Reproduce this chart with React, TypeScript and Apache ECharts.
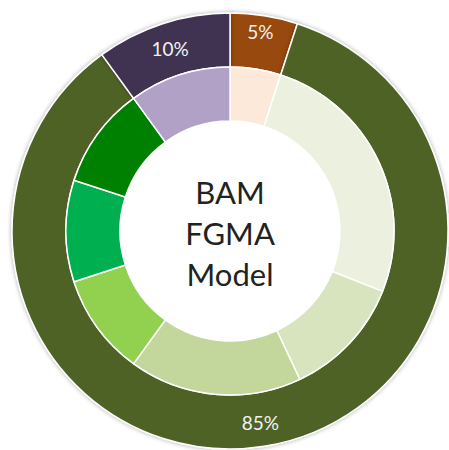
import React, { useEffect, useRef } from "react";
import * as echarts from "echarts";

const outerNames = ["A", "B", "C"];
const outerValues = [5, 85, 10];
const outerColors = ["#984807", "#4F6228", "#403151"];

const innerNames = ["i1", "i2", "i3", "i4", "i5", "i6", "i7", "i8"];
const innerValues = [5, 26, 12, 17, 10, 10, 10, 10];
const innerColors = ["#FDE9D9", "#EBF1DE", "#D7E4BD", "#C3D69B", "#92D050", "#00B050", "#008000", "#B2A1C7"];

const centerLines = ["BAM", "FGMA", "Model"];

export default function App() {
  const ref = useRef<HTMLDivElement>(null);
  useEffect(() => {
    if (!ref.current) return;
    const chart = echarts.init(ref.current, null, { renderer: "svg" });
    const font = "Lato, 'Open Sans', sans-serif";
    chart.setOption({
      animation: false,
      backgroundColor: "#ffffff",
      graphic: centerLines.map((t, i) => ({
        type: "text",
        x: 230,
        y: 192 + i * 41,
        style: {
          text: t,
          font: `31px ${font}`,
          fill: "#222222",
          align: "center",
          verticalAlign: "middle",
        },
      })),
      series: [
        {
          type: "pie",
          center: [230, 231],
          radius: [164, 218],
          startAngle: 90,
          clockwise: true,
          silent: true,
          label: {
            show: true,
            position: "inside",
            color: "#f2f2f2",
            fontSize: 19,
            fontFamily: font,
            formatter: (p: any) => p.value + "%",
          },
          labelLine: { show: false },
          itemStyle: {
            borderColor: "#ffffff",
            borderWidth: 1.5,
            shadowBlur: 4,
            shadowColor: "rgba(0,0,0,0.35)",
          },
          data: outerValues.map((v, i) => ({
            name: outerNames[i],
            value: v,
            itemStyle: { color: outerColors[i] },
            label: i === 0 ? { offset: [0, -8] } : i === 2 ? { offset: [0, 2] } : {},
          })),
        },
        {
          type: "pie",
          center: [230, 231],
          radius: [110, 164],
          startAngle: 90,
          clockwise: true,
          silent: true,
          label: { show: false },
          labelLine: { show: false },
          itemStyle: { borderColor: "#ffffff", borderWidth: 1.5 },
          data: innerValues.map((v, i) => ({
            name: innerNames[i],
            value: v,
            itemStyle: { color: innerColors[i] },
          })),
        },
      ],
    });
    return () => chart.dispose();
  }, []);
  return (
    <div
      ref={ref}
      style={{ position: "fixed", left: 0, top: 0, width: 449, height: 450 }}
    />
  );
}
